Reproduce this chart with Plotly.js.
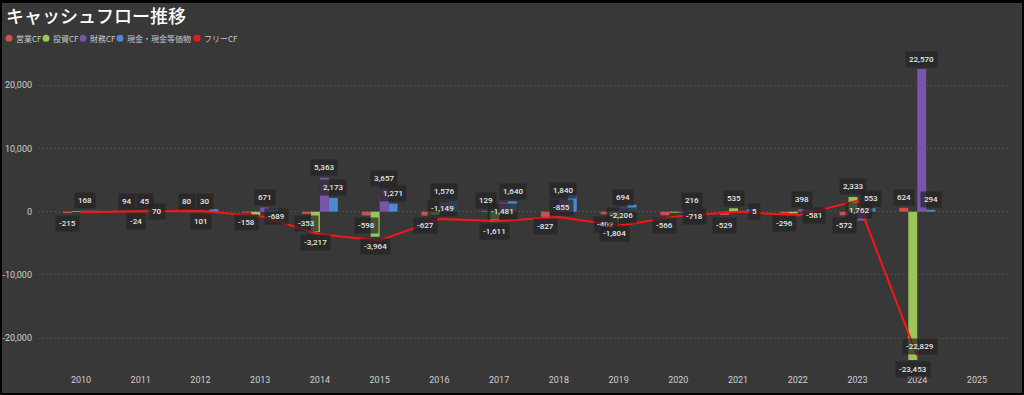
<!DOCTYPE html>
<html>
<head>
<meta charset="utf-8">
<script src="https://cdn.plot.ly/plotly-3.0.1.min.js"></script>
<style>
  html, body { margin:0; padding:0; background:#000; width:1024px; height:395px; overflow:hidden; }
  #chart { position:absolute; left:2px; top:3px; width:1020px; height:390px; }
</style>
</head>
<body>
<div id="chart"></div>
<script>
// ---- data (百万円) ----
const years   = [2010,2011,2012,2013,2014,2015,2016,2017,2018,2019,2020,2021,2022,2023,2024,2025];
const opCF    = [-215, 94, 80, -158, -353, -598, -627, 129, -827, -402, -566, -529, -296, -572, 624, null];
const invCF   = [110, -24, 21, -531, -3217, -3964, -522, -1611, -28, -1804, -152, 535, -285, 2333, -23453, null];
const finCF   = [168, 45, 30, 671, 5363, 3657, 1576, 1424, 1840, 694, -179, 178, 398, -1426, 22570, null];
const cash    = [152, 267, 398, 380, 2173, 1271, 1698, 1640, 2625, 1113, 216, 400, 217, 553, 294, null];
const freeCF  = [-105, 70, 101, -689, -3570, -4562, -1149, -1481, -855, -2206, -718, 5, -581, 1762, -22829, null];

// which data labels are visible in the original
const showOp   = [1,1,1,1,1,1,1,1,1,1,1,1,1,1,1,0];
const showInv  = [0,1,0,0,1,1,0,1,0,1,0,1,0,1,1,0];
const showFin  = [1,1,1,1,1,1,1,0,1,1,0,0,1,0,1,0];
const showCash = [0,0,0,0,1,1,0,1,0,0,1,0,0,1,1,0];
const showFree = [0,1,1,1,0,0,1,1,1,1,1,1,1,1,1,0];

const seriesNames = ['営業CF','投資CF','財務CF','現金・現金等価物','フリーCF'];
const yTickVals = [-20000,-10000,0,10000,20000];
const yTickText = ['-20,000','-10,000','0','10,000','20,000'];
const xTickText = years.map(String);

// ---- style ----
const colors = ['#cf4f4e','#9cc45c','#7755a8','#4e88cf','#ff1414'];
const BG = '#383838';
const barW = 0.15;
const offsets = [-0.3, -0.15, 0, 0.15];
const barSeries = [opCF, invCF, finCF, cash];
const shows = [showOp, showInv, showFin, showCash];
// placement of the free-CF labels relative to the line point (style only)
const freeLabelSide = {2011:'right',2012:'below',2013:'right',2016:'above',2017:'above',2018:'above',
                       2019:'above',2020:'right',2021:'right',2022:'right',2023:'below',2024:'above'};
const sideShift = { right:[16,0], above:[3,10], below:[1,-10] };

const traces = barSeries.map((vals, i) => ({
  type: 'bar', x: years, y: vals, name: seriesNames[i],
  offset: offsets[i], width: barW,
  marker: { color: colors[i], line: { width: 0 } },
  showlegend: false, hoverinfo: 'skip'
}));
traces.push({
  type: 'scatter', mode: 'lines', x: years, y: freeCF, name: seriesNames[4],
  line: { color: colors[4], width: 2 }, showlegend: false, hoverinfo: 'skip'
});

const fmt = v => (v < 0 ? '-' : '') + Math.abs(v).toLocaleString('en-US');
const labFont = { family: 'Roboto, sans-serif', size: 8, color: '#e6e6e6', weight: 500 };
const boxBg = 'rgba(36,36,36,0.72)';
const annotations = [];
barSeries.forEach((vals, i) => {
  vals.forEach((v, k) => {
    if (v === null || !shows[i][k]) return;
    annotations.push({
      x: years[k] + offsets[i] + barW / 2, y: v, xref: 'x', yref: 'y',
      text: fmt(v), showarrow: false, font: labFont,
      bgcolor: boxBg, borderpad: 3,
      yshift: v >= 0 ? 10 : -10
    });
  });
});
freeCF.forEach((v, k) => {
  if (v === null || !showFree[k]) return;
  const s = sideShift[freeLabelSide[years[k]] || 'right'];
  annotations.push({
    x: years[k], y: v, xref: 'x', yref: 'y',
    text: fmt(v), showarrow: false, font: labFont,
    bgcolor: boxBg, borderpad: 3, xshift: s[0], yshift: s[1]
  });
});

// custom legend (circle + label), positioned in pixels of the 1020px-wide div
const M = { l: 37, r: 12, t: 42, b: 23 };
const plotW = 1020 - M.l - M.r, plotH = 390 - M.t - M.b;
const px2x = px => (px - 2 - M.l) / plotW;
const legY = (390 - M.b - 35.3) / plotH;
const legCircleX = [9, 46, 83, 120, 197];
const shapes = [];
seriesNames.forEach((nm, i) => {
  shapes.push({
    type: 'circle', xref: 'paper', yref: 'paper', xsizemode: 'pixel', ysizemode: 'pixel',
    xanchor: px2x(legCircleX[i]), yanchor: legY, x0: -3.5, x1: 3.5, y0: -3.5, y1: 3.5,
    fillcolor: colors[i], line: { width: 0 }
  });
  annotations.push({
    x: px2x(legCircleX[i] + 5), y: legY, xref: 'paper', yref: 'paper',
    xanchor: 'left', yanchor: 'middle', text: nm, showarrow: false,
    font: { family: 'Noto Sans CJK JP, sans-serif', size: 8, color: '#c8c8c8' }
  });
});

const layout = {
  width: 1020, height: 390,
  paper_bgcolor: BG, plot_bgcolor: BG,
  margin: M,
  barmode: 'overlay',
  showlegend: false,
  title: {
    text: 'キャッシュフロー推移', xref: 'container', yref: 'container',
    x: 4 / 1020, xanchor: 'left', y: 1 - 14 / 390, yanchor: 'middle',
    font: { family: 'Noto Sans CJK JP, sans-serif', size: 18, color: '#ffffff', weight: 500 }
  },
  xaxis: {
    type: 'linear', range: [2009.297, 2025.553],
    tickmode: 'array', tickvals: years, ticktext: xTickText,
    showgrid: false, zeroline: false, showline: false, ticks: '',
    ticklabelstandoff: 3,
    tickfont: { family: 'Roboto, sans-serif', size: 9, color: '#cfcfcf' }
  },
  yaxis: {
    range: [-25043, 26372],
    tickmode: 'array', tickvals: yTickVals, ticktext: yTickText,
    showgrid: true, gridcolor: '#5a5a5a', griddash: '1px,3px', gridwidth: 1,
    zeroline: false, showline: false, ticks: '', ticklabelstandoff: 6,
    tickfont: { family: 'Roboto, sans-serif', size: 9, color: '#cfcfcf' }
  },
  annotations: annotations,
  shapes: shapes
};

Plotly.newPlot('chart', traces, layout, { staticPlot: true, displayModeBar: false });
</script>
</body>
</html>
